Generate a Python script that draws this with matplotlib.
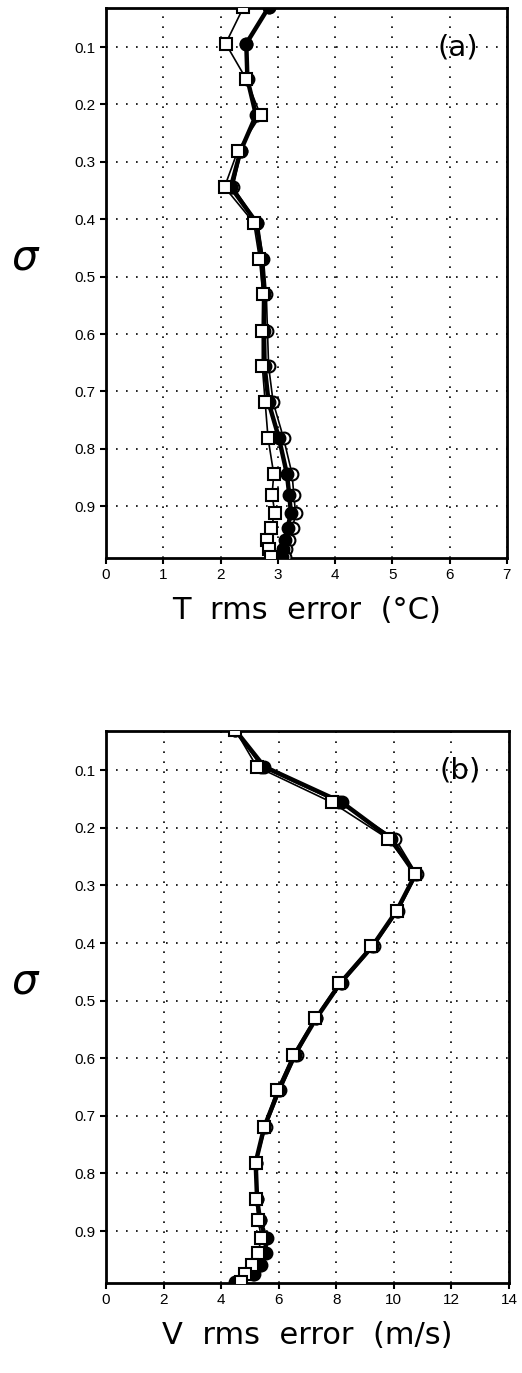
import numpy as np
import matplotlib
matplotlib.use("Agg")
import matplotlib.pyplot as plt

# sigma levels (shared by both panels)
sigma = [0.031, 0.094, 0.156, 0.219, 0.281, 0.344, 0.406, 0.469, 0.531, 0.594,
         0.656, 0.719, 0.781, 0.844, 0.880, 0.912, 0.938, 0.959, 0.975, 0.988]

# panel (a): temperature rms error (deg C)
t_filled = [2.84, 2.45, 2.47, 2.62, 2.35, 2.18, 2.63, 2.72, 2.76, 2.76,
            2.77, 2.84, 3.02, 3.16, 3.20, 3.23, 3.17, 3.12, 3.09, 3.07]
t_open = [2.84, 2.45, 2.48, 2.63, 2.36, 2.22, 2.64, 2.75, 2.80, 2.82,
          2.84, 2.92, 3.10, 3.25, 3.28, 3.31, 3.26, 3.20, 3.15, 3.12]
t_square = [2.40, 2.09, 2.45, 2.70, 2.30, 2.07, 2.58, 2.68, 2.74, 2.73,
            2.73, 2.78, 2.83, 2.93, 2.90, 2.95, 2.88, 2.82, 2.84, 2.88]

# panel (b): wind rms error (m/s)
v_filled = [4.5, 5.5, 8.2, 9.9, 10.75, 10.1, 9.25, 8.15, 7.3, 6.55,
            6.0, 5.5, 5.2, 5.25, 5.35, 5.55, 5.55, 5.4, 5.15, 4.5]
v_open = [4.5, 5.4, 8.1, 10.05, 10.8, 10.15, 9.3, 8.2, 7.3, 6.62,
          6.05, 5.55, 5.22, 5.25, 5.35, 5.6, 5.5, 5.35, 5.1, 4.6]
v_square = [4.5, 5.24, 7.85, 9.8, 10.75, 10.1, 9.2, 8.1, 7.25, 6.5,
            5.93, 5.49, 5.2, 5.22, 5.28, 5.4, 5.28, 5.07, 4.83, 4.7]

yticks = [0.1, 0.2, 0.3, 0.4, 0.5, 0.6, 0.7, 0.8, 0.9]

plt.rcParams['font.family'] = ['Liberation Sans', 'DejaVu Sans']

fig = plt.figure(figsize=(5.22, 13.73), dpi=100)
ax_a = fig.add_axes([0.203, 0.5936, 0.768, 0.4006])
ax_b = fig.add_axes([0.203, 0.0656, 0.772, 0.4020])


def draw_panel(ax, filled, opened, square, xmax, xstep, xlabel, tag, xtext):
    ax.plot(opened, sigma, '-o', color='black', lw=1.2, ms=8.5,
            mfc='white', mec='black', mew=1.5, zorder=3)
    ax.plot(filled, sigma, '-o', color='black', lw=3.2, ms=8.5,
            mfc='black', mec='black', mew=1.5, zorder=4)
    ax.plot(square, sigma, '-s', color='black', lw=1.2, ms=8.5,
            mfc='white', mec='black', mew=1.5, zorder=5)
    ax.set_xlim(0, xmax)
    ax.set_ylim(0.99, 0.032)
    ax.set_xticks(np.arange(0, xmax + 0.1, xstep))
    ax.set_yticks(yticks)
    ax.set_yticklabels(['%.1f' % v for v in yticks])
    ax.grid(True, color='black', linestyle=(0, (1, 5)), lw=1.2)
    ax.tick_params(direction='out', length=4, width=1.5, labelsize=11,
                   top=False, right=False)
    for s in ax.spines.values():
        s.set_linewidth(2)
    ax.set_xlabel(xlabel, fontsize=22, labelpad=10, family='DejaVu Sans')
    ax.set_ylabel(r'$\sigma$', fontsize=30, rotation=0, va='center')
    ax.yaxis.set_label_coords(-0.2, 0.545)
    ax.text(xtext, 0.1, tag, fontsize=21, ha='center', va='center',
            family='DejaVu Sans')


draw_panel(ax_a, t_filled, t_open, t_square, 7, 1,
           'T  rms  error  (\u00b0C)', '(a)', 6.15)
draw_panel(ax_b, v_filled, v_open, v_square, 14, 2,
           'V  rms  error  (m/s)', '(b)', 12.3)

fig.savefig('out.png', dpi=100)
